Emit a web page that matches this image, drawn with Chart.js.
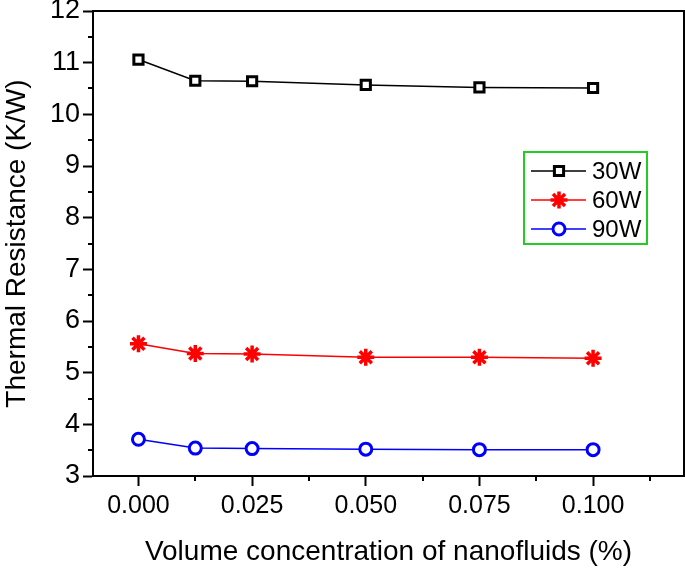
<!DOCTYPE html>
<html>
<head>
<meta charset="utf-8">
<script src="https://cdn.jsdelivr.net/npm/chart.js@4.4.1/dist/chart.umd.min.js"></script>
<style>
html, body { margin: 0; padding: 0; background: #fff; }
#wrap { width: 685px; height: 572px; }
</style>
</head>
<body>
<div id="wrap"><canvas id="chart" width="685" height="572"></canvas></div>
<script>
// data
const concentrations = [0, 0.0125, 0.025, 0.05, 0.075, 0.1]
const r30W = [11.06, 10.65, 10.64, 10.57, 10.52, 10.51]
const r60W = [5.56, 5.37, 5.36, 5.30, 5.30, 5.28]
const r90W = [3.71, 3.54, 3.53, 3.52, 3.51, 3.51]
const xTicks = [0, 0.025, 0.05, 0.075, 0.1]
const xMinor = [0.0125, 0.0375, 0.0625, 0.0875, 0.1125]
const yMinor = [3.5, 4.5, 5.5, 6.5, 7.5, 8.5, 9.5, 10.5, 11.5]

const FONT = 'Liberation Sans, Arial, sans-serif'

const toPts = ys => ys.map((y, i) => ({ x: concentrations[i], y: y }))

const series = [
  { label: '30W', data: r30W, color: '#000000', style: 'rect', r: 6.5, bw: 3 },
  { label: '60W', data: r60W, color: '#ff0000', style: 'star', r: 8.5, bw: 3.5 },
  { label: '90W', data: r90W, color: '#0000ff', style: 'circle', r: 6, bw: 3 }
]

// frame, minor ticks and the in-plot legend
const extras = {
  id: 'extras',
  afterDraw(chart) {
    const ctx = chart.ctx
    const a = chart.chartArea
    const x = chart.scales.x, y = chart.scales.y
    ctx.save()
    ctx.strokeStyle = '#000'
    ctx.lineWidth = 2
    ctx.beginPath()
    ctx.moveTo(a.left, a.top); ctx.lineTo(a.right, a.top); ctx.lineTo(a.right, a.bottom)
    ctx.stroke()
    ctx.beginPath()
    xMinor.forEach(v => {
      const px = Math.round(x.getPixelForValue(v))
      ctx.moveTo(px, a.bottom); ctx.lineTo(px, a.bottom + 5)
    })
    yMinor.forEach(v => {
      const py = Math.round(y.getPixelForValue(v))
      ctx.moveTo(a.left, py); ctx.lineTo(a.left - 5, py)
    })
    ctx.stroke()

    // legend
    const bx = 524, by = 152, bw = 123, bh = 92
    ctx.strokeStyle = '#22cc22'
    ctx.lineWidth = 2
    ctx.strokeRect(bx, by, bw, bh)
    ctx.font = '24px ' + FONT
    ctx.textBaseline = 'middle'
    ctx.textAlign = 'left'
    series.forEach((s, i) => {
      const ly = 171 + i * 29
      ctx.strokeStyle = s.color
      ctx.lineWidth = 1.5
      ctx.beginPath(); ctx.moveTo(531, ly); ctx.lineTo(586, ly); ctx.stroke()
      ctx.lineWidth = s.bw
      ctx.fillStyle = '#fff'
      Chart.helpers.drawPoint(ctx, { pointStyle: s.style, radius: s.r, borderWidth: s.bw, rotation: 0 }, 559, ly)
      ctx.fillStyle = '#000'
      ctx.fillText(s.label, 592, ly + 1)
    })
    ctx.restore()
  }
}

new Chart(document.getElementById('chart'), {
  type: 'line',
  data: {
    datasets: series.map(s => ({
      label: s.label,
      data: toPts(s.data),
      borderColor: s.color,
      borderWidth: 1.5,
      pointStyle: s.style,
      pointRadius: s.r,
      pointBorderWidth: s.bw,
      pointBorderColor: s.color,
      pointBackgroundColor: '#fff',
      tension: 0
    }))
  },
  options: {
    responsive: false,
    animation: false,
    layout: { autoPadding: false, padding: { top: 11, right: 1, left: 0, bottom: 0 } },
    plugins: { legend: { display: false }, tooltip: { enabled: false } },
    scales: {
      x: {
        type: 'linear',
        min: -0.01,
        max: 0.12,
        afterBuildTicks: s => { s.ticks = xTicks.map(v => ({ value: v })) },
        afterFit: s => { s.height = 96; s.paddingLeft = 0; s.paddingRight = 0 },
        border: { display: true, color: '#000', width: 2 },
        grid: { drawOnChartArea: false, tickLength: 10, tickColor: '#000', tickWidth: 2 },
        ticks: {
          color: '#000', padding: 5, maxRotation: 0,
          font: { family: FONT, size: 25 },
          callback: v => v.toFixed(3)
        },
        title: {
          display: true, text: 'Volume concentration of nanofluids (%)', color: '#000',
          font: { family: FONT, size: 28 }, padding: { top: 0, bottom: 3 }
        }
      },
      y: {
        min: 3,
        max: 12,
        afterFit: s => { s.width = 93; s.paddingTop = 0; s.paddingBottom = 0 },
        border: { display: true, color: '#000', width: 2 },
        grid: { drawOnChartArea: false, tickLength: 10, tickColor: '#000', tickWidth: 2 },
        ticks: {
          color: '#000', padding: 3, stepSize: 1,
          font: { family: FONT, size: 27 }
        },
        title: {
          display: true, text: 'Thermal Resistance (K/W)', color: '#000',
          font: { family: FONT, size: 28 }, padding: { top: 0, bottom: 0 }
        }
      }
    }
  },
  plugins: [extras]
})
</script>
</body>
</html>
